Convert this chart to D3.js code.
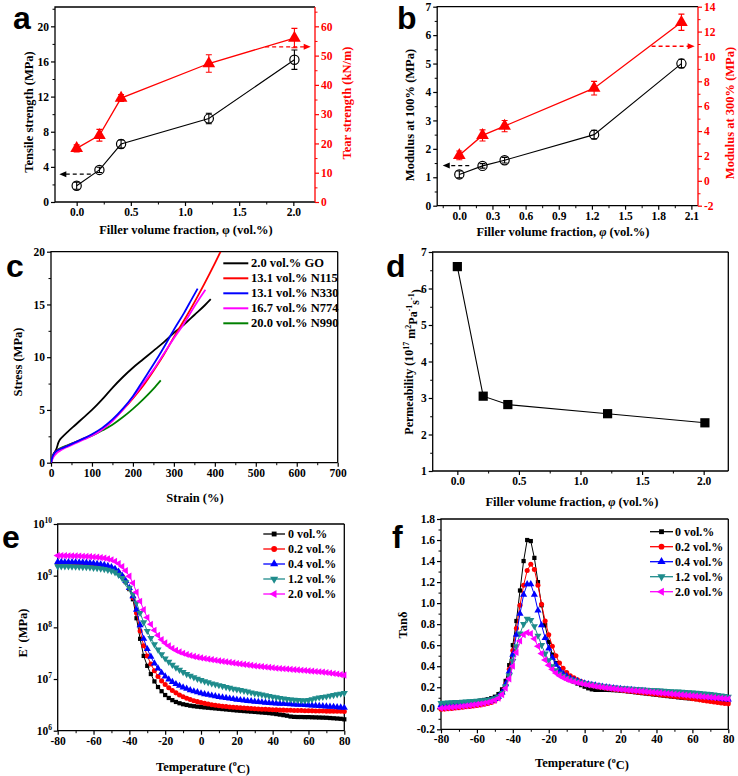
<!DOCTYPE html>
<html><head><meta charset="utf-8">
<script src="https://cdn.jsdelivr.net/npm/d3@7"></script>
<style>body{margin:0;background:#fff}</style>
</head><body>
<script>
// ---------------- DATA ----------------
const fillerFrac = [0, 0.21, 0.41, 1.22, 2.01];
const tensileStrength = [1.85, 3.65, 6.6, 9.5, 16.2];
const tensileErr = [0.4, 0.3, 0.45, 0.6, 1.1];
const tearStrength = [18.3, 22.8, 35.5, 47.3, 56.0];
const tearErr = [1.2, 2.0, 1.2, 3.0, 3.3];
const modulus100 = [1.1, 1.4, 1.6, 2.5, 5.0];
const modulus100Err = [0.12, 0.08, 0.1, 0.15, 0.15];
const modulus300 = [2.05, 3.65, 4.4, 7.45, 12.75];
const modulus300Err = [0.35, 0.45, 0.45, 0.55, 0.65];
const permeability = [6.6, 3.05, 2.82, 2.57, 2.32];

const stressLabels = ["2.0 vol.% GO","13.1 vol.% N115","13.1 vol.% N330","16.7 vol.% N774","20.0 vol.% N990"];
const curveGO = [[0,0],[3,0.4],[8,0.9],[14,1.4],[18,1.9],[22,2.2],[28,2.45],[40,2.9],[60,3.6],[80,4.3],[100,5.0],[125,6.0],[150,7.1],[175,8.1],[200,9.0],[225,9.8],[250,10.6],[275,11.4],[300,12.3],[325,13.1],[350,14.0],[375,14.9],[390,15.5]];
const curveN115 = [[0,0],[3,0.5],[8,0.9],[15,1.15],[25,1.35],[40,1.6],[60,1.95],[80,2.3],[100,2.65],[125,3.2],[150,4.0],[175,5.0],[200,6.1],[225,7.3],[250,8.7],[275,10.2],[300,11.9],[325,13.5],[350,15.2],[375,17.0],[400,18.9],[414,20]];
const curveN330 = [[0,0],[3,0.5],[8,0.9],[15,1.15],[25,1.35],[40,1.6],[60,1.95],[80,2.3],[100,2.7],[125,3.3],[150,4.1],[175,5.1],[200,6.3],[225,7.8],[250,9.3],[275,10.9],[300,12.6],[325,14.2],[345,15.6],[358,16.5]];
const curveN774 = [[0,0],[3,0.3],[8,0.65],[15,0.95],[25,1.2],[40,1.5],[60,1.85],[80,2.2],[100,2.55],[125,3.15],[150,3.95],[175,5.0],[200,6.2],[225,7.5],[250,8.8],[275,10.3],[300,11.8],[325,13.2],[350,14.8],[365,15.7],[377,16.4]];
const curveN990 = [[0,0],[3,0.55],[8,0.95],[15,1.2],[25,1.4],[40,1.65],[60,1.95],[80,2.25],[100,2.55],[125,3.05],[150,3.6],[175,4.3],[200,5.1],[225,6.0],[250,7.0],[268,7.8]];

const dmaLabels = ["0 vol.%","0.2 vol.%","0.4 vol.%","1.2 vol.%","2.0 vol.%"];
const temps = [-80,-78,-76,-74,-72,-70,-68,-66,-64,-62,-60,-58,-56,-54,-52,-50,-48,-46,-44,-42,-40,-38,-36,-34,-32,-30,-28,-26,-24,-22,-20,-18,-16,-14,-12,-10,-8,-6,-4,-2,0,2,4,6,8,10,12,14,16,18,20,22,24,26,28,30,32,34,36,38,40,42,44,46,48,50,52,54,56,58,60,62,64,66,68,70,72,74,76,78,80];

const storage0 = [1.65e9,1.65e9,1.64e9,1.64e9,1.63e9,1.62e9,1.61e9,1.60e9,1.58e9,1.56e9,
 1.54e9,1.52e9,1.49e9,1.45e9,1.40e9,1.34e9,1.25e9,1.12e9,9.5e8,7.5e8,
 5.5e8,3.5e8,1.5e8,6.0e7,2.8e7,1.8e7,1.25e7,9.0e6,7.0e6,5.8e6,
 4.9e6,4.3e6,3.9e6,3.6e6,3.4e6,3.25e6,3.15e6,3.05e6,2.98e6,2.92e6,
 2.87e6,2.82e6,2.78e6,2.74e6,2.70e6,2.66e6,2.62e6,2.58e6,2.54e6,2.50e6,
 2.46e6,2.43e6,2.40e6,2.37e6,2.34e6,2.31e6,2.28e6,2.25e6,2.22e6,2.19e6,
 2.15e6,2.10e6,2.05e6,2.00e6,1.95e6,1.88e6,1.85e6,1.84e6,1.84e6,1.83e6,
 1.83e6,1.82e6,1.81e6,1.80e6,1.79e6,1.78e6,1.76e6,1.74e6,1.72e6,1.70e6,1.66e6];
const storage02 = [1.72e9,1.72e9,1.71e9,1.71e9,1.70e9,1.69e9,1.68e9,1.67e9,1.65e9,1.63e9,
 1.61e9,1.58e9,1.55e9,1.51e9,1.46e9,1.39e9,1.29e9,1.15e9,9.7e8,7.7e8,
 5.7e8,3.8e8,1.9e8,8.5e7,4.4e7,2.8e7,1.95e7,1.45e7,1.12e7,9.2e6,
 7.8e6,6.8e6,6.0e6,5.4e6,4.9e6,4.55e6,4.25e6,4.0e6,3.8e6,3.65e6,
 3.5e6,3.38e6,3.28e6,3.19e6,3.11e6,3.04e6,2.98e6,2.93e6,2.88e6,2.84e6,
 2.80e6,2.77e6,2.74e6,2.71e6,2.68e6,2.65e6,2.63e6,2.61e6,2.59e6,2.57e6,
 2.55e6,2.53e6,2.51e6,2.50e6,2.49e6,2.48e6,2.47e6,2.46e6,2.45e6,2.44e6,
 2.43e6,2.42e6,2.41e6,2.41e6,2.40e6,2.39e6,2.39e6,2.38e6,2.38e6,2.37e6,2.36e6];
const storage04 = [1.85e9,1.85e9,1.84e9,1.84e9,1.83e9,1.82e9,1.81e9,1.80e9,1.78e9,1.76e9,
 1.73e9,1.70e9,1.66e9,1.61e9,1.55e9,1.47e9,1.36e9,1.20e9,1.0e9,7.9e8,
 5.8e8,4.0e8,2.2e8,1.1e8,6.0e7,3.8e7,2.7e7,2.0e7,1.6e7,1.32e7,
 1.12e7,9.8e6,8.8e6,8.0e6,7.4e6,6.9e6,6.5e6,6.1e6,5.8e6,5.55e6,
 5.3e6,5.1e6,4.95e6,4.8e6,4.65e6,4.52e6,4.4e6,4.3e6,4.2e6,4.1e6,
 4.0e6,3.92e6,3.85e6,3.78e6,3.72e6,3.66e6,3.6e6,3.55e6,3.5e6,3.46e6,
 3.42e6,3.38e6,3.35e6,3.32e6,3.29e6,3.26e6,3.23e6,3.2e6,3.17e6,3.14e6,
 3.11e6,3.08e6,3.05e6,3.02e6,2.99e6,2.96e6,2.93e6,2.9e6,2.86e6,2.82e6,2.78e6];
const storage12 = [1.52e9,1.52e9,1.51e9,1.51e9,1.50e9,1.49e9,1.48e9,1.47e9,1.46e9,1.44e9,
 1.42e9,1.40e9,1.37e9,1.34e9,1.30e9,1.24e9,1.16e9,1.04e9,9.0e8,7.4e8,
 5.8e8,4.4e8,3.0e8,1.9e8,1.25e8,8.5e7,6.2e7,4.7e7,3.7e7,3.0e7,
 2.5e7,2.15e7,1.88e7,1.66e7,1.5e7,1.36e7,1.25e7,1.16e7,1.08e7,1.01e7,
 9.5e6,9.0e6,8.6e6,8.2e6,7.9e6,7.6e6,7.3e6,7.0e6,6.75e6,6.5e6,
 6.3e6,6.1e6,5.9e6,5.7e6,5.5e6,5.3e6,5.15e6,5.0e6,4.85e6,4.7e6,
 4.55e6,4.42e6,4.3e6,4.2e6,4.1e6,4.02e6,3.95e6,3.9e6,3.87e6,3.85e6,
 3.9e6,4.05e6,4.25e6,4.4e6,4.5e6,4.6e6,4.75e6,4.9e6,5.05e6,5.2e6,5.35e6];
const storage20 = [2.45e9,2.45e9,2.44e9,2.43e9,2.42e9,2.41e9,2.40e9,2.38e9,2.36e9,2.34e9,
 2.31e9,2.28e9,2.24e9,2.19e9,2.12e9,2.03e9,1.90e9,1.72e9,1.50e9,1.25e9,
 9.8e8,7.2e8,4.8e8,3.2e8,2.2e8,1.55e8,1.15e8,8.8e7,7.0e7,5.8e7,
 5.0e7,4.4e7,3.95e7,3.6e7,3.35e7,3.15e7,2.98e7,2.85e7,2.74e7,2.65e7,
 2.57e7,2.5e7,2.43e7,2.37e7,2.31e7,2.25e7,2.2e7,2.15e7,2.1e7,2.05e7,
 2.0e7,1.96e7,1.92e7,1.88e7,1.84e7,1.8e7,1.77e7,1.74e7,1.71e7,1.68e7,
 1.65e7,1.62e7,1.6e7,1.58e7,1.56e7,1.54e7,1.52e7,1.5e7,1.48e7,1.46e7,
 1.44e7,1.42e7,1.4e7,1.38e7,1.36e7,1.34e7,1.31e7,1.28e7,1.25e7,1.22e7,1.19e7];

const tand0 = [0.040,0.042,0.044,0.046,0.048,0.050,0.053,0.056,0.060,0.064,
 0.068,0.073,0.079,0.086,0.096,0.110,0.135,0.180,0.260,0.410,
 0.600,0.830,1.120,1.400,1.600,1.590,1.430,1.200,0.980,0.790,
 0.630,0.510,0.430,0.370,0.330,0.300,0.275,0.255,0.235,0.220,
 0.205,0.190,0.180,0.175,0.175,0.175,0.175,0.174,0.172,0.170,
 0.167,0.164,0.160,0.156,0.152,0.148,0.144,0.140,0.136,0.132,
 0.128,0.124,0.120,0.116,0.112,0.108,0.104,0.100,0.097,0.094,
 0.091,0.088,0.086,0.084,0.082,0.080,0.078,0.076,0.074,0.072,0.070];
const tand02 = [-0.010,-0.008,-0.005,-0.002,0.002,0.006,0.010,0.014,0.018,0.022,
 0.027,0.032,0.038,0.045,0.055,0.070,0.095,0.140,0.230,0.370,
 0.550,0.760,0.980,1.170,1.310,1.370,1.320,1.170,0.990,0.830,
 0.700,0.590,0.500,0.430,0.380,0.340,0.310,0.290,0.270,0.255,
 0.240,0.228,0.218,0.210,0.203,0.197,0.191,0.186,0.181,0.177,
 0.173,0.169,0.165,0.161,0.157,0.153,0.149,0.145,0.141,0.137,
 0.133,0.129,0.125,0.121,0.117,0.113,0.109,0.105,0.101,0.097,
 0.090,0.085,0.080,0.075,0.070,0.065,0.060,0.055,0.050,0.046,0.042];
const tand04 = [0.030,0.031,0.033,0.035,0.037,0.039,0.041,0.043,0.045,0.048,
 0.051,0.055,0.060,0.066,0.075,0.088,0.110,0.150,0.230,0.350,
 0.510,0.700,0.900,1.080,1.180,1.180,1.080,0.930,0.790,0.670,
 0.570,0.480,0.415,0.365,0.330,0.305,0.285,0.270,0.258,0.247,
 0.238,0.230,0.223,0.217,0.211,0.206,0.201,0.196,0.192,0.188,
 0.184,0.180,0.177,0.174,0.171,0.168,0.165,0.162,0.159,0.156,
 0.153,0.150,0.147,0.144,0.141,0.138,0.135,0.132,0.129,0.126,
 0.123,0.119,0.115,0.111,0.107,0.103,0.099,0.095,0.091,0.087,0.083];
const tand12 = [0.050,0.052,0.054,0.056,0.058,0.060,0.062,0.064,0.066,0.068,
 0.070,0.073,0.076,0.080,0.086,0.095,0.110,0.145,0.210,0.310,
 0.450,0.590,0.710,0.800,0.850,0.840,0.780,0.690,0.600,0.520,
 0.455,0.400,0.360,0.330,0.308,0.290,0.276,0.265,0.255,0.247,
 0.240,0.233,0.227,0.221,0.216,0.211,0.206,0.202,0.198,0.195,
 0.192,0.189,0.186,0.184,0.182,0.180,0.178,0.176,0.174,0.172,
 0.170,0.168,0.166,0.164,0.162,0.160,0.158,0.156,0.154,0.152,
 0.150,0.147,0.144,0.141,0.138,0.134,0.130,0.126,0.121,0.116,0.110];
const tand20 = [0.000,0.003,0.006,0.009,0.012,0.015,0.019,0.023,0.027,0.032,
 0.037,0.042,0.048,0.055,0.064,0.076,0.095,0.130,0.190,0.280,
 0.400,0.530,0.640,0.700,0.720,0.710,0.660,0.590,0.520,0.460,
 0.410,0.370,0.335,0.310,0.290,0.275,0.262,0.252,0.243,0.236,
 0.229,0.222,0.216,0.210,0.205,0.200,0.195,0.191,0.187,0.183,
 0.179,0.176,0.173,0.170,0.167,0.164,0.161,0.158,0.155,0.152,
 0.149,0.146,0.143,0.140,0.137,0.134,0.131,0.128,0.125,0.122,
 0.119,0.116,0.113,0.110,0.107,0.104,0.101,0.098,0.095,0.092,0.089];

// ---------------- DRAWING ----------------
const FONT = '"Liberation Serif","Times New Roman",serif';
const RED = '#ff0000', BLUE = '#0000ff', MAG = '#ff00ff', GREEN = '#008000', TEAL = '#1f8c8c';
const svg = d3.select('body').append('svg').attr('width', 738).attr('height', 776);
const loc = d3.formatLocale({decimal: '.', thousands: ',', grouping: [3], currency: ['', ''], minus: '-'});
const f1 = loc.format('.1f');
const fd = loc.format('d');

function frame(x0, y0, x1, y1, rightColor) {
  svg.append('path').attr('d', `M${x1},${y0}H${x0}V${y1}H${x1}`).attr('fill', 'none').attr('stroke', '#000').attr('stroke-width', 1.3);
  svg.append('line').attr('x1', x1).attr('x2', x1).attr('y1', y0).attr('y2', y1).attr('stroke', rightColor || '#000').attr('stroke-width', 1.3);
}
function drawAxis(orient, scale, pos, major, minor, fmt, color) {
  color = color || '#000';
  const gen = {left: d3.axisLeft, right: d3.axisRight, bottom: d3.axisBottom}[orient];
  const tr = orient === 'bottom' ? `translate(0,${pos})` : `translate(${pos},0)`;
  if (minor) {
    const m = svg.append('g').attr('transform', tr).call(gen(scale).tickValues(minor).tickFormat('').tickSize(2.5));
    m.select('.domain').remove();
    m.selectAll('line').attr('stroke', color).attr('stroke-width', 1);
  }
  const g = svg.append('g').attr('transform', tr).call(gen(scale).tickValues(major).tickFormat(fmt).tickSize(4).tickPadding(2));
  g.select('.domain').remove();
  g.selectAll('line').attr('stroke', color).attr('stroke-width', 1.2);
  g.selectAll('text').attr('fill', color).style('font-family', FONT).style('font-weight', 'bold').style('font-size', '11.5px');
  return g;
}
function ytitle(x, y, color, size) {
  return svg.append('text').attr('transform', `translate(${x},${y}) rotate(-90)`).attr('text-anchor', 'middle')
    .attr('dominant-baseline', 'central').attr('fill', color || '#000')
    .style('font-family', FONT).style('font-weight', 'bold').style('font-size', (size || 12) + 'px');
}
function xtitle(x, y, size) {
  return svg.append('text').attr('x', x).attr('y', y).attr('text-anchor', 'middle').attr('dominant-baseline', 'central')
    .style('font-family', FONT).style('font-weight', 'bold').style('font-size', (size || 12) + 'px');
}
function panelLetter(t, x, y) {
  svg.append('text').attr('x', x).attr('y', y).text(t).style('font-family', '"Liberation Sans",Arial,sans-serif')
    .style('font-weight', 'bold').style('font-size', '32px');
}
function errBars(xs, ys, es, xS, yS, color) {
  xs.forEach((xv, i) => {
    const x = xS(xv), y1 = yS(ys[i] - es[i]), y2 = yS(ys[i] + es[i]);
    svg.append('path').attr('d', `M${x},${y1}V${y2}M${x - 3},${y1}H${x + 3}M${x - 3},${y2}H${x + 3}`)
      .attr('stroke', color).attr('stroke-width', 1.1).attr('fill', 'none');
  });
}
function dashedArrow(x1, x2, y, color) {
  svg.append('line').attr('x1', x1).attr('x2', x2 + (x2 > x1 ? -5 : 5)).attr('y1', y).attr('y2', y)
    .attr('stroke', color).attr('stroke-width', 1.3).attr('stroke-dasharray', '4,3');
  const d = x2 > x1 ? -1 : 1;
  svg.append('path').attr('d', `M${x2},${y}L${x2 + d * 7},${y - 3}L${x2 + d * 7},${y + 3}Z`).attr('fill', color);
}
const range = (a, b, s) => { const r = []; for (let v = a; v <= b + 1e-9; v += s) r.push(+v.toFixed(4)); return r; };
function phiTitle(x, y, italic) {
  const t = xtitle(x, y, 12.5);
  t.append('tspan').text('Filler volume fraction, ');
  t.append('tspan').text('φ').style('font-style', italic ? 'italic' : 'normal');
  t.append('tspan').text(' (vol.%)');
}

// ===== Panel a =====
{
  const x = d3.scaleLinear([-0.2, 2.2], [55, 315]);
  const yL = d3.scaleLinear([0, 22.2], [202, 7]);
  const yR = d3.scaleLinear([0, 66.6], [202, 7]);
  frame(55, 7, 315, 202, RED);
  drawAxis('bottom', x, 202, [0, 0.5, 1, 1.5, 2], [0.25, 0.75, 1.25, 1.75], f1);
  drawAxis('left', yL, 55, range(0, 20, 4), range(2, 22, 4), fd);
  drawAxis('right', yR, 315, range(0, 60, 10), range(5, 65, 10), fd, RED);
  svg.append('path').datum(fillerFrac).attr('d', d3.line().x(d => x(d)).y((d, i) => yL(tensileStrength[i])))
    .attr('fill', 'none').attr('stroke', '#000').attr('stroke-width', 1.1);
  errBars(fillerFrac, tensileStrength, tensileErr, x, yL, '#000');
  fillerFrac.forEach((v, i) => svg.append('circle').attr('cx', x(v)).attr('cy', yL(tensileStrength[i])).attr('r', 4.6)
    .attr('fill', 'none').attr('stroke', '#000').attr('stroke-width', 1.2));
  svg.append('path').datum(fillerFrac).attr('d', d3.line().x(d => x(d)).y((d, i) => yR(tearStrength[i])))
    .attr('fill', 'none').attr('stroke', RED).attr('stroke-width', 1.3);
  errBars(fillerFrac, tearStrength, tearErr, x, yR, RED);
  fillerFrac.forEach((v, i) => svg.append('path').attr('transform', `translate(${x(v)},${yR(tearStrength[i])})`)
    .attr('d', d3.symbol(d3.symbolTriangle, 70)()).attr('fill', RED));
  dashedArrow(x(0.13), x(-0.16), yL(3.17), '#000');
  dashedArrow(x(1.74), x(2.16), yR(53), RED);
  phiTitle(186, 230, false);
  ytitle(29, 112, '#000', 12.5).text('Tensile strength (MPa)');
  ytitle(347, 103, RED, 12.5).text('Tear strength (kN/m)');
  panelLetter('a', 13, 29);
}

// ===== Panel b =====
{
  const x = d3.scaleLinear([-0.2, 2.16], [437.2, 698]);
  const yL = d3.scaleLinear([0, 7], [205.7, 6.7]);
  const yR = d3.scaleLinear([-2, 14], [205.7, 6.7]);
  frame(437.2, 6.7, 698, 205.7, RED);
  drawAxis('bottom', x, 205.7, range(0, 2.1, 0.3), range(-0.15, 2.1, 0.3), f1);
  drawAxis('left', yL, 437.2, range(0, 7, 1), range(0.5, 6.5, 1), fd);
  drawAxis('right', yR, 698, range(-2, 14, 2), range(-1, 13, 2), fd, RED);
  svg.append('path').datum(fillerFrac).attr('d', d3.line().x(d => x(d)).y((d, i) => yL(modulus100[i])))
    .attr('fill', 'none').attr('stroke', '#000').attr('stroke-width', 1.1);
  errBars(fillerFrac, modulus100, modulus100Err, x, yL, '#000');
  fillerFrac.forEach((v, i) => svg.append('circle').attr('cx', x(v)).attr('cy', yL(modulus100[i])).attr('r', 4.6)
    .attr('fill', 'none').attr('stroke', '#000').attr('stroke-width', 1.2));
  svg.append('path').datum(fillerFrac).attr('d', d3.line().x(d => x(d)).y((d, i) => yR(modulus300[i])))
    .attr('fill', 'none').attr('stroke', RED).attr('stroke-width', 1.3);
  errBars(fillerFrac, modulus300, modulus300Err, x, yR, RED);
  fillerFrac.forEach((v, i) => svg.append('path').attr('transform', `translate(${x(v)},${yR(modulus300[i])})`)
    .attr('d', d3.symbol(d3.symbolTriangle, 70)()).attr('fill', RED));
  dashedArrow(x(0.09), x(-0.15), yL(1.41), '#000');
  dashedArrow(x(1.74), x(2.13), yR(10.82), RED);
  phiTitle(563, 232, true);
  ytitle(410, 115, '#000', 12.5).text('Modulus at 100% (MPa)');
  ytitle(730, 113, RED, 12.5).text('Modulus at 300% (MPa)');
  panelLetter('b', 397, 29);
}

// ===== Panel c =====
{
  const x = d3.scaleLinear([0, 700], [51, 337.7]);
  const y = d3.scaleLinear([0, 20], [462.7, 251.7]);
  frame(51, 251.7, 337.7, 462.7);
  drawAxis('bottom', x, 462.7, range(0, 700, 100), range(50, 650, 100), fd);
  drawAxis('left', y, 51, range(0, 20, 5), range(2.5, 17.5, 5), fd);
  const curves = [curveGO, curveN115, curveN330, curveN774, curveN990];
  const cols = ['#000', RED, BLUE, MAG, GREEN];
  const line = d3.line().x(d => x(d[0])).y(d => y(d[1])).curve(d3.curveMonotoneX);
  const order = [4, 0, 1, 3, 2];
  svg.append('clipPath').attr('id', 'clipc').append('rect').attr('x', 51).attr('y', 251.7).attr('width', 286.7).attr('height', 211);
  order.forEach(i => svg.append('path').datum(curves[i]).attr('d', line).attr('clip-path', 'url(#clipc)')
    .attr('fill', 'none').attr('stroke', cols[i]).attr('stroke-width', 1.8));
  stressLabels.forEach((t, i) => {
    const yy = 263.3 + i * 15;
    svg.append('line').attr('x1', 223.3).attr('x2', 248.3).attr('y1', yy).attr('y2', yy).attr('stroke', cols[i]).attr('stroke-width', 2);
    svg.append('text').attr('x', 251).attr('y', yy).attr('dominant-baseline', 'central').text(t)
      .style('font-family', FONT).style('font-weight', 'bold').style('font-size', '12.5px');
  });
  xtitle(195, 498, 12.5).text('Strain (%)');
  ytitle(18.3, 362, '#000', 12.5).text('Stress (MPa)');
  panelLetter('c', 6, 277);
}

// ===== Panel d =====
{
  const x = d3.scaleLinear([-0.2, 2.2], [432.7, 728.3]);
  const y = d3.scaleLinear([1, 7], [471, 252]);
  frame(432.7, 252, 728.3, 471);
  drawAxis('bottom', x, 471, [0, 0.5, 1, 1.5, 2], [0.25, 0.75, 1.25, 1.75], f1);
  drawAxis('left', y, 432.7, range(1, 7, 1), range(1.5, 6.5, 1), fd);
  svg.append('path').datum(fillerFrac).attr('d', d3.line().x(d => x(d)).y((d, i) => y(permeability[i])))
    .attr('fill', 'none').attr('stroke', '#000').attr('stroke-width', 1.1);
  fillerFrac.forEach((v, i) => svg.append('rect').attr('x', x(v) - 4.6).attr('y', y(permeability[i]) - 4.6)
    .attr('width', 9.2).attr('height', 9.2).attr('fill', '#000'));
  phiTitle(572, 502.3, true);
  const yt = ytitle(409.3, 362, '#000', 12);
  const sup = (t) => { yt.append('tspan').attr('dy', '-0.45em').style('font-size', '8px').text(t); };
  const nor = (t) => { yt.append('tspan').attr('dy', '0.45em').text(t); };
  yt.append('tspan').text('Permeability (10');
  sup('17'); nor(' m'); sup('2'); nor('Pa'); sup('-1'); nor('s'); sup('-1'); nor(')');
  panelLetter('d', 386, 276.7);
}

// ===== DMA marker shapes =====
const symTypes = [
  {t: d3.symbolSquare, s: 18, r: 0},
  {t: d3.symbolCircle, s: 20, r: 0},
  {t: d3.symbolTriangle, s: 22, r: 0},
  {t: d3.symbolTriangle, s: 22, r: 180},
  {t: d3.symbolTriangle, s: 22, r: -90}
];
const dmaCols = ['#000', RED, BLUE, TEAL, MAG];
function drawSeries(data, xS, yS, col, sym) {
  svg.append('path').datum(temps).attr('d', d3.line().x(d => xS(d)).y((d, i) => yS(data[i])))
    .attr('fill', 'none').attr('stroke', col).attr('stroke-width', 1);
  const symPath = d3.symbol(sym.t, sym.s)();
  temps.forEach((t, i) => svg.append('path').attr('d', symPath)
    .attr('transform', `translate(${xS(t)},${yS(data[i])}) rotate(${sym.r})`).attr('fill', col));
}
function dmaLegend(x1, x2, tx, y0, dy) {
  dmaLabels.forEach((t, i) => {
    const yy = y0 + i * dy;
    svg.append('line').attr('x1', x1).attr('x2', x2).attr('y1', yy).attr('y2', yy).attr('stroke', dmaCols[i]).attr('stroke-width', 1.3);
    svg.append('path').attr('d', d3.symbol(symTypes[i].t, symTypes[i].s * 1.3)())
      .attr('transform', `translate(${(x1 + x2) / 2},${yy}) rotate(${symTypes[i].r})`).attr('fill', dmaCols[i]);
    svg.append('text').attr('x', tx).attr('y', yy).attr('dominant-baseline', 'central').text(t)
      .style('font-family', FONT).style('font-weight', 'bold').style('font-size', '12px');
  });
}
function tempTitle(x, y) {
  const xt = xtitle(x, y, 12.5);
  xt.append('tspan').text('Temperature (');
  xt.append('tspan').attr('dy', '-0.45em').style('font-size', '8px').text('o');
  xt.append('tspan').attr('dy', '0.45em').text('C)');
}

// ===== Panel e =====
{
  const x = d3.scaleLinear([-80, 80], [57.7, 344.3]);
  const y = d3.scaleLog([1e6, 1e10], [730.7, 524]);
  frame(57.7, 524, 344.3, 730.7);
  drawAxis('bottom', x, 730.7, range(-80, 80, 20), range(-70, 70, 20), fd);
  drawAxis('left', y, 57.7, [1e6, 1e7, 1e8, 1e9, 1e10], null, () => '');
  [1e6, 1e7, 1e8, 1e9, 1e10].forEach(v => {
    const t = svg.append('text').attr('x', 52).attr('y', y(v)).attr('text-anchor', 'end').attr('dominant-baseline', 'central')
      .style('font-family', FONT).style('font-weight', 'bold').style('font-size', '11.5px');
    t.append('tspan').text('10');
    t.append('tspan').attr('dy', '-0.5em').style('font-size', '7.5px').text(Math.round(Math.log10(v)));
  });
  const series = [storage0, storage02, storage04, storage12, storage20];
  series.forEach((s, i) => drawSeries(s, x, y, dmaCols[i], symTypes[i]));
  dmaLegend(263.3, 285, 288, 534, 15);
  tempTitle(203, 766.7);
  ytitle(23.3, 633, '#000', 12.5).text("E' (MPa)");
  panelLetter('e', 2, 548);
}

// ===== Panel f =====
{
  const x = d3.scaleLinear([-80, 80], [441, 728.3]);
  const y = d3.scaleLinear([-0.2, 1.8], [729.3, 519]);
  frame(441, 519, 728.3, 729.3);
  drawAxis('bottom', x, 729.3, range(-80, 80, 20), range(-70, 70, 20), fd);
  drawAxis('left', y, 441, range(-0.2, 1.8, 0.2), range(-0.1, 1.7, 0.2), f1);
  const series = [tand0, tand02, tand04, tand12, tand20];
  series.forEach((s, i) => drawSeries(s, x, y, dmaCols[i], symTypes[i]));
  dmaLegend(650, 673, 675, 531.7, 15);
  tempTitle(582, 763.3);
  ytitle(403.3, 625, '#000', 12.5).text('Tanδ');
  panelLetter('f', 392, 548);
}
</script></body></html>
